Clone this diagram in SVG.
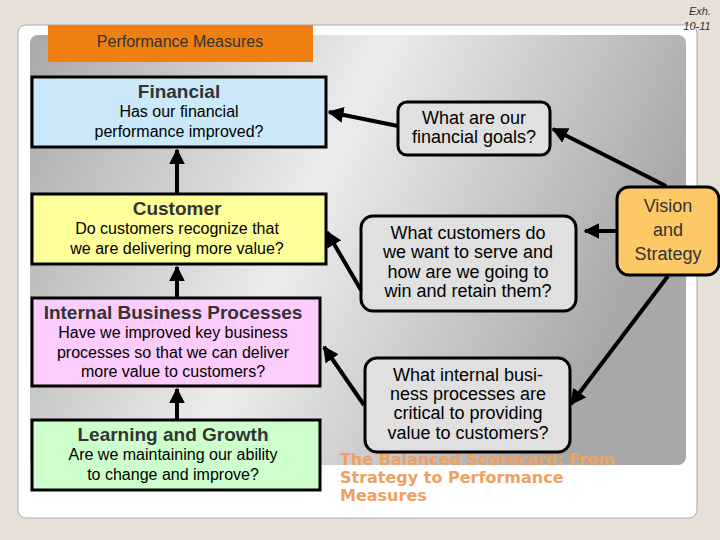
<svg xmlns="http://www.w3.org/2000/svg" width="720" height="540" viewBox="0 0 720 540">
<defs>
<linearGradient id="g" x1="0" y1="0" x2="1" y2="0.3">
<stop offset="0" stop-color="#a8a8a8"/><stop offset="0.5" stop-color="#ececec"/><stop offset="1" stop-color="#a8a8a8"/>
</linearGradient>
<marker id="ah" viewBox="0 0 10 10" refX="9" refY="5" markerWidth="4" markerHeight="4" orient="auto"><path d="M0,0L10,5L0,10z" fill="#000"/></marker>
<style>
text{font-family:"Liberation Sans",Arial,sans-serif;text-anchor:middle}
.box{stroke:#000;stroke-width:3}
.q{fill:#e0e0e0;stroke:#000;stroke-width:3}
.t{font-size:16px}
.h{font-size:19px;fill:#333;font-weight:bold}
.c line{stroke:#000;stroke-width:4;marker-end:url(#ah)}
.cap{text-anchor:start;font-family:"DejaVu Sans",sans-serif;font-weight:bold;font-size:16px;fill:#f0a060}
</style>
</defs>
<rect width="720" height="540" fill="#e6e0d6"/>
<rect x="18" y="25" width="679" height="493" rx="8" fill="#fff" stroke="#aaa"/>
<rect x="30" y="35" width="656" height="430" rx="8" fill="url(#g)"/>
<text x="700" y="15" style="font-size:11px;font-style:italic;fill:#333">Exh.</text>
<text x="697" y="30" style="font-size:11px;font-style:italic;fill:#333">10-11</text>
<g id="caption">
<text x="340" y="465" class="cap">The Balanced Scorecard:  From</text>
<text x="340" y="483" class="cap">Strategy to Performance</text>
<text x="340" y="501" class="cap">Measures</text>
</g>
<g id="title"><rect x="48" y="25" width="265" height="37" fill="#ee7f10"/><text x="180" y="47" style="font-size:16px;fill:#333">Performance Measures</text></g>
<g id="financial"><rect class="box" x="32" y="77" width="294" height="70" fill="#cce9f9"/><text x="179" y="98" class="h">Financial</text><text x="179" y="117" class="t">Has our financial</text><text x="179" y="137" class="t">performance improved?</text></g>
<g id="customer"><rect class="box" x="32" y="194" width="294" height="70" fill="#ffff99"/><text x="177" y="215" class="h">Customer</text><text x="177" y="234" class="t">Do customers recognize that</text><text x="177" y="254" class="t">we are delivering more value?</text></g>
<g id="internal"><rect class="box" x="32" y="298" width="288" height="88" fill="#fcccfc"/><text x="173" y="319" class="h">Internal Business Processes</text><text x="173" y="338" class="t">Have we improved key business</text><text x="173" y="358" class="t">processes so that we can deliver</text><text x="173" y="377" class="t">more value to customers?</text></g>
<g id="learning"><rect class="box" x="32" y="420" width="288" height="70" fill="#ccffcc"/><text x="173" y="441" class="h">Learning and Growth</text><text x="173" y="460" class="t">Are we maintaining our ability</text><text x="173" y="480" class="t">to change and improve?</text></g>
<g id="q1"><rect class="q" x="398" y="102" width="152" height="53" rx="9"/><text x="474" y="124" style="font-size:18px">What are our</text><text x="474" y="143" style="font-size:18px">financial goals?</text></g>
<g id="q2"><rect class="q" x="361" y="216" width="215" height="95" rx="12"/><text x="468" y="239" style="font-size:18px">What customers do</text><text x="468" y="258" style="font-size:18px">we want to serve and</text><text x="468" y="278" style="font-size:18px">how are we going to</text><text x="468" y="297" style="font-size:18px">win and retain them?</text></g>
<g id="q3"><rect class="q" x="365" y="358" width="205" height="94" rx="12"/><text x="468" y="381" style="font-size:18px">What internal busi-</text><text x="468" y="400" style="font-size:18px">ness processes are</text><text x="468" y="419" style="font-size:18px">critical to providing</text><text x="468" y="439" style="font-size:18px">value to customers?</text></g>
<g id="vision"><rect x="617" y="187" width="102" height="88" rx="12" fill="#fdc866" stroke="#000" stroke-width="3"/><text x="668" y="212" style="font-size:18px;fill:#333">Vision</text><text x="668" y="236" style="font-size:18px;fill:#333">and</text><text x="668" y="260" style="font-size:18px;fill:#333">Strategy</text></g>
<g id="connectors" class="c">
<line x1="177" y1="194" x2="177" y2="150"/>
<line x1="177" y1="298" x2="177" y2="267"/>
<line x1="177" y1="420" x2="177" y2="389"/>
<line x1="398" y1="126" x2="329" y2="112"/>
<line x1="666" y1="186" x2="553" y2="129"/>
<line x1="361" y1="290" x2="327" y2="232"/>
<line x1="617" y1="231" x2="585" y2="231"/>
<line x1="364" y1="405" x2="324" y2="347"/>
<line x1="668" y1="276" x2="571" y2="404"/>
</g>
</svg>
